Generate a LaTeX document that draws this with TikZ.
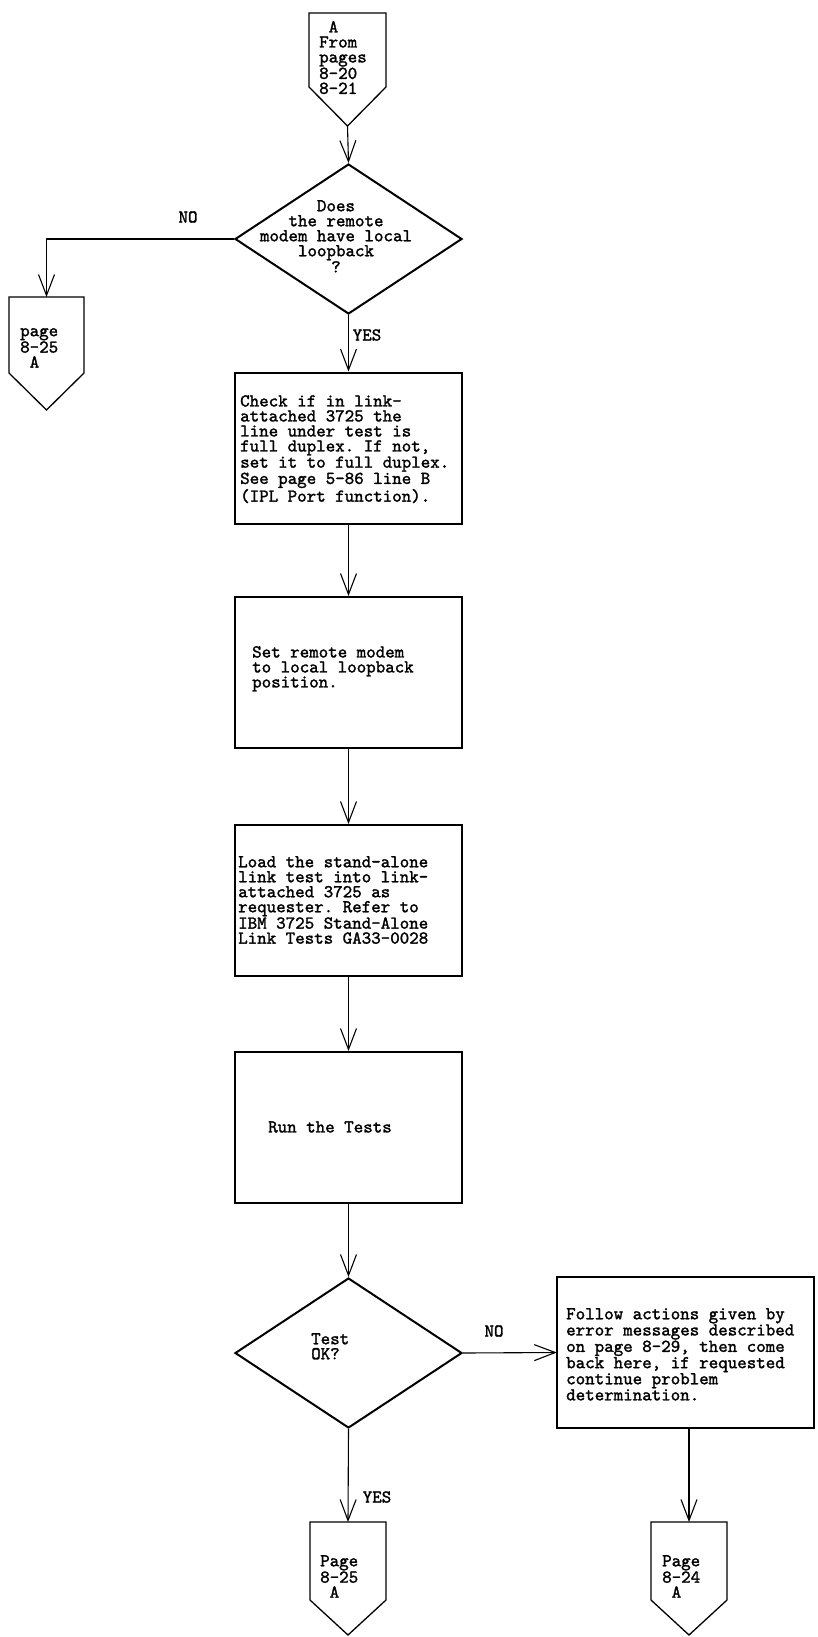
\documentclass[tikz,border=0pt]{standalone}
\usepackage{fontspec}
\newfontfamily\courier{lmmono10-regular.otf}[FakeBold=1.6]
\usetikzlibrary{arrows.meta}
\usetikzlibrary{shapes.geometric}
\tikzset{block/.style={draw,line width=2pt,minimum width=227pt,minimum height=151pt,inner sep=0pt},
 decision/.style={diamond,draw,line width=2pt,minimum width=227pt,minimum height=150pt,inner sep=0pt},
 offpage/.style={draw,line width=1.3pt,line join=miter},
 flow/.style={line width=1.1pt,-{Straight Barb[length=21pt,width=16pt]}},
 txt/.style={inner sep=0pt,align=left,font=\courier\fontsize{18.1}{15}\selectfont},
 }

\begin{document}
\frenchspacing
\begin{tikzpicture}[x=1pt,y=-1pt]
        \useasboundingbox (0,0) rectangle (817,1637);
        % entry connector
        \draw[offpage] (309,13) -- (386,13) -- (386,87) -- (347.5,126) -- (309,87) -- cycle;
        \coordinate (fromA) at (347.5,126);
        \node[txt,anchor=north west] (fromAtext) at (319,21) {\phantom{F}A\\From\\pages\\8-20\\8-21};

        % first question
        \node[decision] (hasloop) at (348.5,239) {};
        \node[txt,align=center,anchor=north] (hasloopq) at (336,200) {Does\\the remote\\modem have local\\loopback\\?};
        \node[txt,anchor=center] (noloop) at (188,217) {NO};
        \node[txt,anchor=center] (yesloop) at (367,335) {YES};

        \draw[offpage] (9,297) -- (84,297) -- (84,373) -- (46.5,410) -- (9,373) -- cycle;
        \coordinate (toNoLoop) at (46.5,297);
        \node[txt,anchor=north west] (noLooptext) at (20,328) {page\\8-25\\\phantom{p}A};

        % boxes down the middle
        \node[block] (duplex) at (348.5,448) {};
        \node[txt,anchor=north west] (duplextext) at (240,395) {Check if in link-\\attached 3725 the\\line under test is\\full duplex. If not,\\set it to full duplex.\\See page 5-86 line B\\(IPL Port function).};
        \node[block] (setmodem) at (348.5,672.5) {};
        \node[txt,anchor=north west] (setmodemtext) at (252,646) {Set remote modem\\to local loopback\\position.};
        \node[block] (load) at (348.5,900.5) {};
        \node[txt,anchor=north west] (loadtext) at (238,856) {Load the stand-alone\\link test into link-\\attached 3725 as\\requester. Refer to\\IBM 3725 Stand-Alone\\Link Tests GA33-0028};
        \node[block] (run) at (348.5,1127.5) {};
        \node[txt,anchor=west] (runtext) at (268,1127) {Run the Tests};

        % second question
        \node[decision] (testok) at (348.5,1353) {};
        \node[txt,anchor=north west] (testoktext) at (311,1333) {Test\\OK?};
        \node[txt,anchor=center] (notest) at (494,1331) {NO};
        \node[txt,anchor=center] (yestest) at (377,1497) {YES};

        \draw[line width=2pt] (557,1277) rectangle (814,1428);
        \node[inner sep=0pt,minimum width=257pt,minimum height=151pt] (errors) at (685.5,1352.5) {};
        \node[txt,anchor=north west] (errorstext) at (566,1308) {Follow actions given by\\error messages described\\on page 8-29, then come\\back here, if requested\\continue problem\\determination.};

        % exit connectors
        \draw[offpage] (310,1522) -- (386,1522) -- (386,1600) -- (348,1635) -- (310,1600) -- cycle;
        \coordinate (toPageA) at (348,1522);
        \node[txt,anchor=north west] (pageAtext) at (320,1555) {Page\\8-25\\\phantom{P}A};
        \draw[offpage] (651,1522) -- (727,1522) -- (727,1600) -- (689,1635) -- (651,1600) -- cycle;
        \coordinate (toPageB) at (689,1522);
        \node[txt,anchor=north west] (pageBtext) at (662,1555) {Page\\8-24\\\phantom{P}A};

        \draw[flow] (fromA) -- (hasloop.north);
        \draw[flow] (hasloop.west) -| (toNoLoop);
        \draw[flow] (hasloop.south) -- (duplex.north);
        \draw[flow] (duplex.south) -- (setmodem.north);
        \draw[flow] (setmodem.south) -- (load.north);
        \draw[flow] (load.south) -- (run.north);
        \draw[flow] (run.south) -- (testok.north);
        \draw[flow] (testok.east) -- (errors.west);
        \draw[flow] (testok.south) -- (toPageA);
        \draw[flow] (errors.south -| toPageB) -- (toPageB);
    \end{tikzpicture}
\end{document}
